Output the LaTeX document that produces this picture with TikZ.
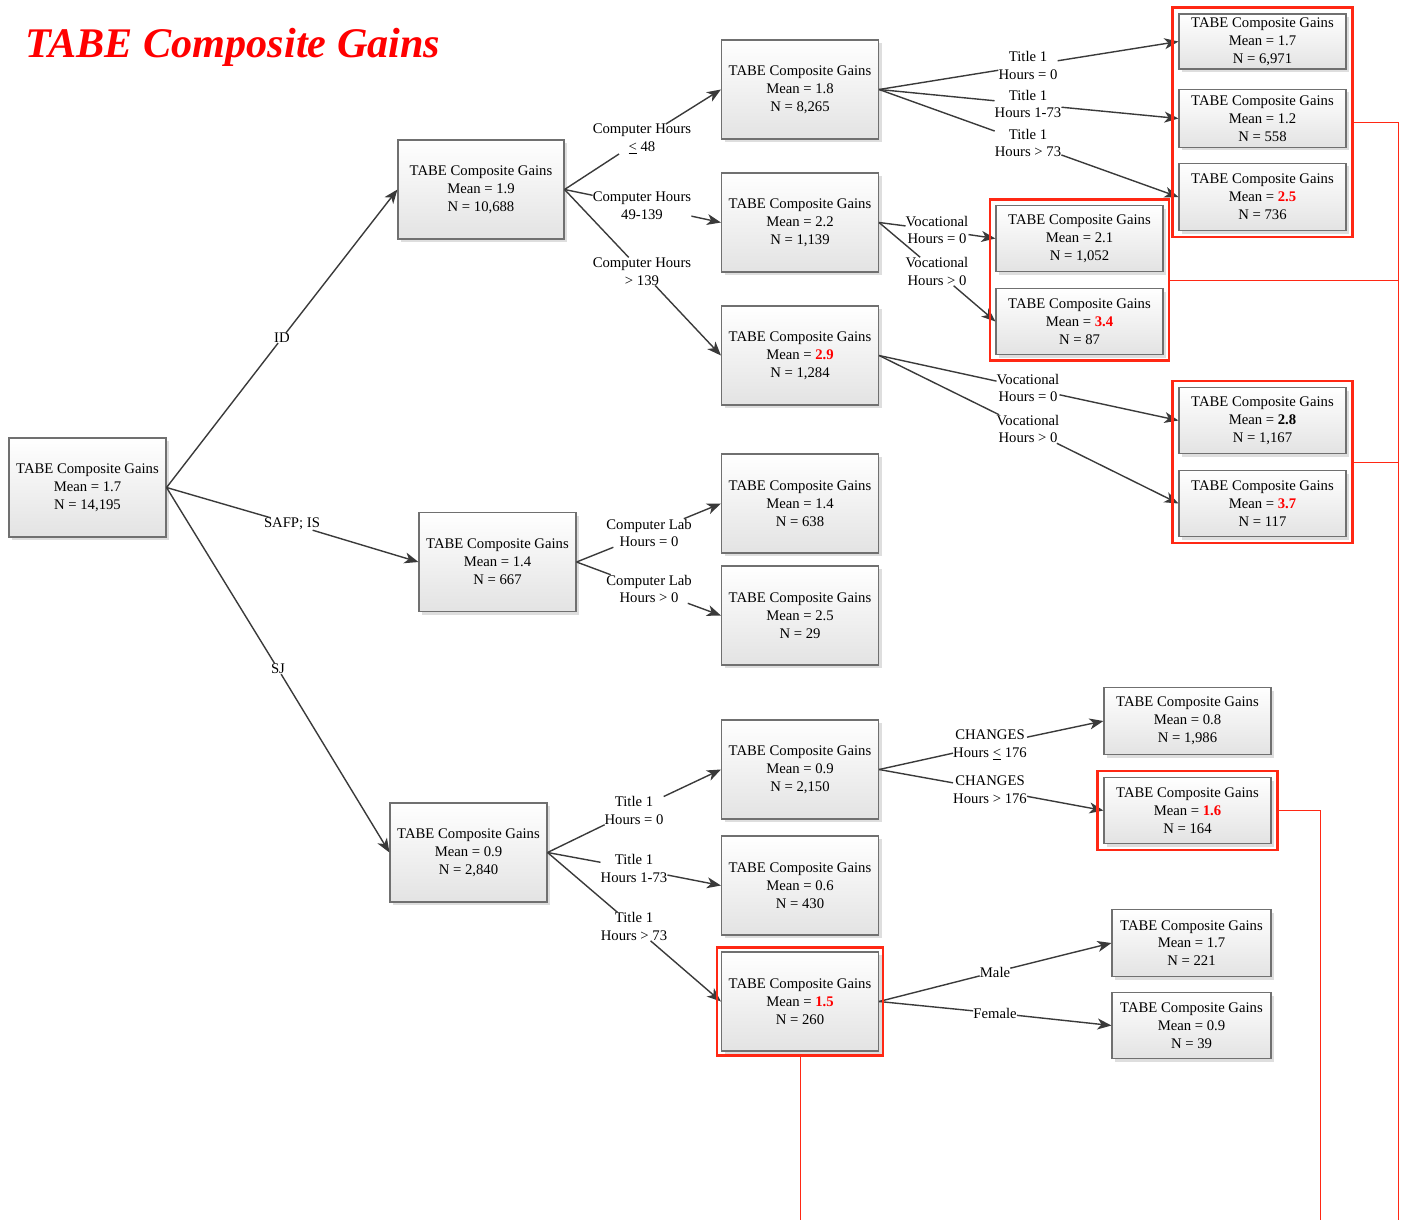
\documentclass[tikz,border=0pt]{standalone}
\usepackage{fontspec}
\setmainfont{Liberation Serif}
\usetikzlibrary{arrows.meta, shadows, fit}

\definecolor{framered}{RGB}{255,40,20}
\definecolor{boxedge}{RGB}{112,112,112}
\definecolor{linkgray}{RGB}{58,58,58}

\begin{document}
\begin{tikzpicture}[x=1pt, y=-1pt, >=Stealth,
    gainbox/.style={draw=boxedge, line width=1.1pt, top color=white, bottom color=black!11,
      minimum width=157pt, minimum height=99pt, inner sep=0pt, align=center,
      font=\fontsize{14.7}{17.8}\selectfont,
      drop shadow={shadow xshift=3pt, shadow yshift=-3pt, fill=black, opacity=0.13}},
    leafbox/.style={gainbox, minimum width=167pt, minimum height=66pt},
    splitlabel/.style={inner sep=0pt, align=center, font=\fontsize{14.7}{17.8}\selectfont},
    link/.style={draw=linkgray, line width=1.4pt, -{Stealth[length=14pt, width=11pt, inset=4pt]}},
    hotframe/.style={draw=framered, line width=2.5pt, inner sep=6pt},
    feedline/.style={draw=framered, line width=0.9pt}]

\newcommand{\gains}[2]{
  % #1 = mean, #2 = count
  TABE Composite Gains\\Mean = #1\\N = #2}
\newcommand{\hotval}[1]{\textcolor{red}{\textbf{#1}}}

\useasboundingbox (0,0) rectangle (1403,1220);

% title
\node[anchor=base west, inner sep=0pt, text=red,
  font=\fontsize{42.2}{50}\selectfont\bfseries\itshape] (title) at (25,58) {TABE Composite Gains};

% root and first split
\node[gainbox] (root) at (87.5,487.5) {\gains{1.7}{14,195}};
\node[gainbox, minimum width=166pt] (id) at (481,189.5) {\gains{1.9}{10,688}};
\node[gainbox] (safp) at (497.5,562) {\gains{1.4}{667}};
\node[gainbox] (sj) at (468.5,852.5) {\gains{0.9}{2,840}};

% second level
\node[gainbox] (a) at (800,89.5) {\gains{1.8}{8,265}};
\node[gainbox] (b) at (800,222.5) {\gains{2.2}{1,139}};
\node[gainbox] (c) at (800,355.5) {\gains{\hotval{2.9}}{1,284}};
\node[gainbox] (d) at (800,503.5) {\gains{1.4}{638}};
\node[gainbox] (e) at (800,615.5) {\gains{2.5}{29}};
\node[gainbox] (f) at (800,769.5) {\gains{0.9}{2,150}};
\node[gainbox] (g) at (800,885.5) {\gains{0.6}{430}};
\node[gainbox] (h) at (800,1001.5) {\gains{\hotval{1.5}}{260}};

% third level
\node[leafbox, minimum height=55pt] (a1) at (1262.5,41.5) {\gains{1.7}{6,971}};
\node[leafbox, minimum height=58pt] (a2) at (1262.5,118.5) {\gains{1.2}{558}};
\node[leafbox, minimum height=67pt] (a3) at (1262.5,197) {\gains{\hotval{2.5}}{736}};
\node[leafbox] (b1) at (1079.5,238.5) {\gains{2.1}{1,052}};
\node[leafbox] (b2) at (1079.5,321.5) {\gains{\hotval{3.4}}{87}};
\node[leafbox] (c1) at (1262.5,420.5) {\gains{\textbf{2.8}}{1,167}};
\node[leafbox] (c2) at (1262.5,503.5) {\gains{\hotval{3.7}}{117}};
\node[leafbox, minimum height=67pt] (j1) at (1187.5,721) {\gains{0.8}{1,986}};
\node[leafbox] (j2) at (1187.5,810.5) {\gains{\hotval{1.6}}{164}};
\node[leafbox, minimum width=159pt, minimum height=67pt] (k1) at (1191.5,943) {\gains{1.7}{221}};
\node[leafbox, minimum width=159pt] (k2) at (1191.5,1025.5) {\gains{0.9}{39}};

% split labels
\node[splitlabel] (lid) at (282,338) {ID};
\node[splitlabel] (lsafp) at (292,524) {SAFP; IS};
\node[splitlabel] (lsj) at (278,669) {SJ};
\node[splitlabel] (la) at (642,139) {Computer Hours\\\underline{<} 48};
\node[splitlabel] (lb) at (642,205.5) {Computer Hours\\49-139};
\node[splitlabel] (lc) at (642,271.5) {Computer Hours\\> 139};
\node[splitlabel] (la1) at (1028,65.5) {Title 1\\Hours = 0};
\node[splitlabel] (la2) at (1028,104) {Title 1\\Hours 1-73};
\node[splitlabel] (la3) at (1028,143) {Title 1\\Hours > 73};
\node[splitlabel] (lb1) at (937,230) {Vocational\\Hours = 0};
\node[splitlabel] (lb2) at (937,271.5) {Vocational\\Hours > 0};
\node[splitlabel] (lc1) at (1028,388) {Vocational\\Hours = 0};
\node[splitlabel] (lc2) at (1028,429) {Vocational\\Hours > 0};
\node[splitlabel] (ld) at (649,533) {Computer Lab\\Hours = 0};
\node[splitlabel] (le) at (649,589) {Computer Lab\\Hours > 0};
\node[splitlabel] (lf) at (634,810.5) {Title 1\\Hours = 0};
\node[splitlabel] (lg) at (634,868.5) {Title 1\\Hours 1-73};
\node[splitlabel] (lh) at (634,926.5) {Title 1\\Hours > 73};
\node[splitlabel] (lj1) at (990,745) {CHANGES\\Hours \underline{<} 176};
\node[splitlabel] (lj2) at (990,789.5) {CHANGES\\Hours > 176};
\node[splitlabel] (lk1) at (995,972) {Male};
\node[splitlabel] (lk2) at (995,1013) {Female};

% connectors, broken by their labels
\draw[link] (root.east) -- (lid) -- (id.west);
\draw[link] (root.east) -- (lsafp) -- (safp.west);
\draw[link] (root.east) -- (lsj) -- (sj.west);
\draw[link] (id.east) -- (la) -- (a.west);
\draw[link] (id.east) -- (lb) -- (b.west);
\draw[link] (id.east) -- (lc) -- (c.west);
\draw[link] (a.east) -- (la1) -- (a1.west);
\draw[link] (a.east) -- (la2) -- (a2.west);
\draw[link] (a.east) -- (la3) -- (a3.west);
\draw[link] (b.east) -- (lb1) -- (b1.west);
\draw[link] (b.east) -- (lb2) -- (b2.west);
\draw[link] (c.east) -- (lc1) -- (c1.west);
\draw[link] (c.east) -- (lc2) -- (c2.west);
\draw[link] (safp.east) -- (ld) -- (d.west);
\draw[link] (safp.east) -- (le) -- (e.west);
\draw[link] (sj.east) -- (lf) -- (f.west);
\draw[link] (sj.east) -- (lg) -- (g.west);
\draw[link] (sj.east) -- (lh) -- (h.west);
\draw[link] (f.east) -- (lj1) -- (j1.west);
\draw[link] (f.east) -- (lj2) -- (j2.west);
\draw[link] (h.east) -- (lk1) -- (k1.west);
\draw[link] (h.east) -- (lk2) -- (k2.west);

% red frames round the high gains
\node[hotframe, fit=(a1)(a3)] (hota) {};
\node[hotframe, inner sep=5.5pt, fit=(b1)(b2)] (hotb) {};
\node[hotframe, fit=(c1)(c2)] (hotc) {};
\node[hotframe, fit=(j2)] (hotj) {};
\node[hotframe, inner sep=4pt, fit=(h)] (hoth) {};

% thin red lines running off the bottom
\coordinate (railr) at (1398,1220);
\coordinate (railj) at (1320,1220);
\draw[feedline] (hota.east) -| (railr);
\draw[feedline] (hotb.east) -- (hotb.east -| railr);
\draw[feedline] (hotc.east) -- (hotc.east -| railr);
\draw[feedline] (hotj.east) -| (railj);
\draw[feedline] (hoth.south) -- (hoth.south |- railr);

\end{tikzpicture}
\end{document}
